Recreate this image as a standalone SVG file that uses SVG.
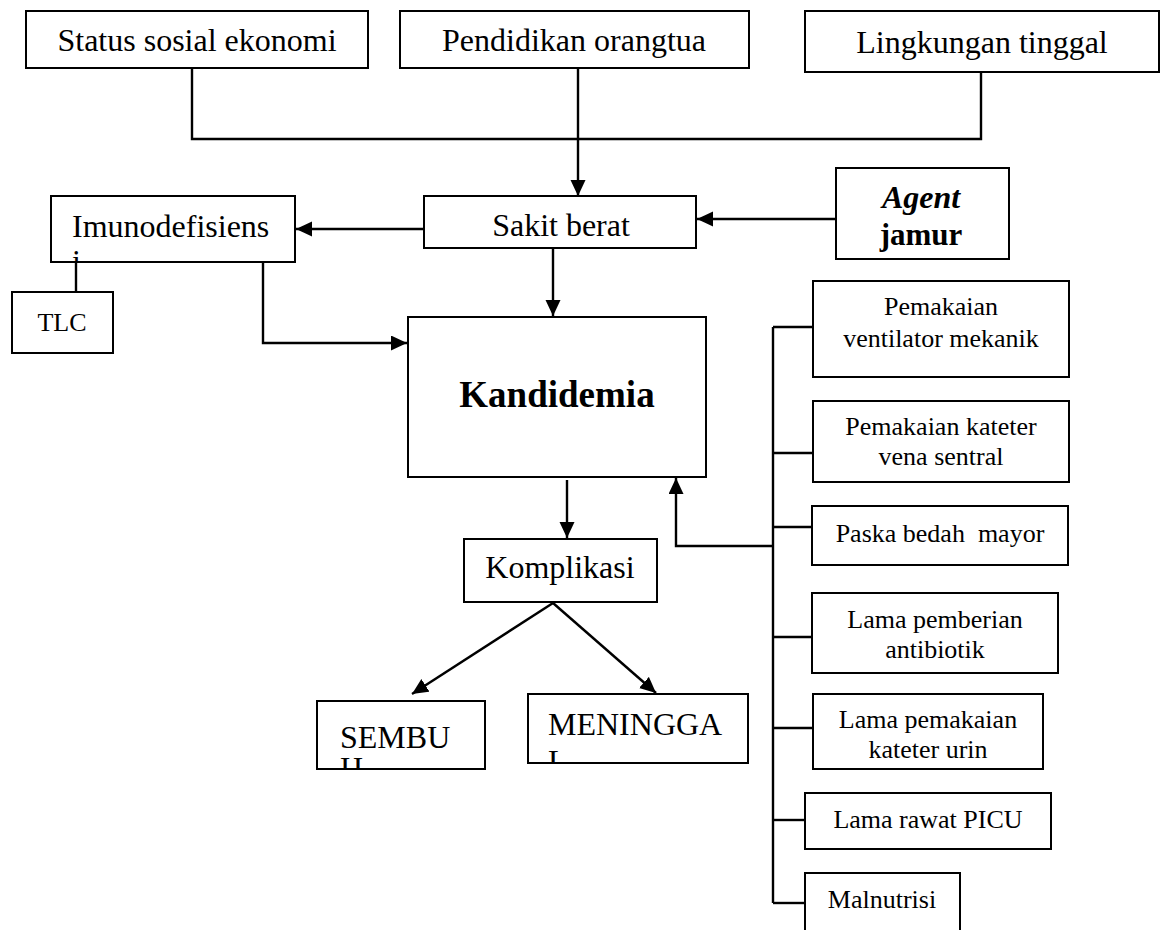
<svg xmlns="http://www.w3.org/2000/svg" width="1165" height="930" viewBox="0 0 1165 930">
<style>
.box{fill:#fff;stroke:#000;stroke-width:2}
.ln{fill:none;stroke:#000;stroke-width:2.4}
text{font-family:"Liberation Serif","Times New Roman",serif;fill:#000}
.t32{font-size:32px}
.t26{font-size:26px}
.c{text-anchor:middle}
</style>
<defs>
<marker id="ah" markerUnits="userSpaceOnUse" markerWidth="18" markerHeight="16" refX="16" refY="7.5" orient="auto">
<path d="M0,0 L16,7.5 L0,15 z" fill="#000"/>
</marker>
<clipPath id="clipImu"><rect x="51" y="196" width="244" height="66"/></clipPath>
<clipPath id="clipSem"><rect x="317" y="701" width="168" height="68"/></clipPath>
<clipPath id="clipMen"><rect x="528" y="694" width="220" height="69"/></clipPath>
</defs>
<g id="connectors">
<polyline class="ln" points="192,68 192,139 981,139 981,72"/>
<line class="ln" x1="578" y1="68" x2="578" y2="196" marker-end="url(#ah)"/>
<line class="ln" x1="836" y1="219" x2="697" y2="219" marker-end="url(#ah)"/>
<line class="ln" x1="424" y1="229" x2="296" y2="229" marker-end="url(#ah)"/>
<line class="ln" x1="76" y1="262" x2="76" y2="292"/>
<polyline class="ln" points="263,262 263,343 407,343" marker-end="url(#ah)"/>
<line class="ln" x1="553" y1="248" x2="553" y2="316" marker-end="url(#ah)"/>
<line class="ln" x1="567" y1="480" x2="567" y2="538" marker-end="url(#ah)"/>
<line class="ln" x1="553" y1="603" x2="412" y2="694" marker-end="url(#ah)"/>
<line class="ln" x1="553" y1="603" x2="656" y2="693" marker-end="url(#ah)"/>
<line class="ln" x1="773" y1="327" x2="773" y2="903"/>
<line class="ln" x1="773" y1="327" x2="813" y2="327"/>
<line class="ln" x1="773" y1="453" x2="813" y2="453"/>
<line class="ln" x1="773" y1="527" x2="812" y2="527"/>
<line class="ln" x1="773" y1="637" x2="812" y2="637"/>
<line class="ln" x1="773" y1="728" x2="813" y2="728"/>
<line class="ln" x1="773" y1="820" x2="805" y2="820"/>
<line class="ln" x1="773" y1="903" x2="805" y2="903"/>
<polyline class="ln" points="773,546 676,546 676,478" marker-end="url(#ah)"/>
</g>
<g id="status"><rect class="box" x="26" y="11" width="342" height="57"/><text class="t32 c" x="197" y="51">Status sosial ekonomi</text></g>
<g id="pendidikan"><rect class="box" x="400" y="11" width="349" height="57"/><text class="t32 c" x="574" y="51">Pendidikan orangtua</text></g>
<g id="lingkungan"><rect class="box" x="805" y="11" width="354" height="61"/><text class="t32 c" x="982" y="53">Lingkungan tinggal</text></g>
<g id="sakit"><rect class="box" x="424" y="196" width="272" height="52"/><text class="t32 c" x="561" y="236">Sakit berat</text></g>
<g id="agent"><rect class="box" x="836" y="168" width="173" height="91"/>
<text class="c" x="921" y="208" font-size="32" font-weight="bold" font-style="italic">Agent</text>
<text class="c" x="921" y="245" font-size="31" font-weight="bold">jamur</text></g>
<g id="imunodefisiens"><rect class="box" x="51" y="196" width="244" height="66"/>
<text class="t32" x="72" y="237">Imunodefisiens</text>
<text class="t32" x="72" y="272" clip-path="url(#clipImu)">i</text></g>
<g id="tlc"><rect class="box" x="12" y="292" width="101" height="61"/><text class="c" x="62" y="331" font-size="26">TLC</text></g>
<g id="kandidemia"><rect class="box" x="408" y="317" width="298" height="160"/><text class="c" x="557" y="407" font-size="37" font-weight="bold">Kandidemia</text></g>
<g id="komplikasi"><rect class="box" x="464" y="539" width="193" height="63"/><text class="t32 c" x="560" y="578">Komplikasi</text></g>
<g id="sembuh"><rect class="box" x="317" y="701" width="168" height="68"/>
<text class="t32" x="340" y="748">SEMBU</text>
<text class="t32" x="340" y="779" clip-path="url(#clipSem)">H</text></g>
<g id="meninggal"><rect class="box" x="528" y="694" width="220" height="69"/>
<text class="t32" x="548" y="735">MENINGGA</text>
<text class="t32" x="548" y="772" clip-path="url(#clipMen)">L</text></g>
<g id="ventilator"><rect class="box" x="813" y="281" width="256" height="96"/>
<text class="t26 c" x="941" y="315">Pemakaian</text><text class="t26 c" x="941" y="347">ventilator mekanik</text></g>
<g id="kateter-vena"><rect class="box" x="813" y="401" width="256" height="81"/>
<text class="t26 c" x="941" y="435">Pemakaian kateter</text><text class="t26 c" x="941" y="465">vena sentral</text></g>
<g id="paska"><rect class="box" x="812" y="506" width="256" height="59"/>
<text class="t26 c" x="940" y="542" xml:space="preserve">Paska bedah  mayor</text></g>
<g id="antibiotik"><rect class="box" x="812" y="593" width="246" height="80"/>
<text class="t26 c" x="935" y="628">Lama pemberian</text><text class="t26 c" x="935" y="658">antibiotik</text></g>
<g id="kateter-urin"><rect class="box" x="813" y="694" width="230" height="75"/>
<text class="t26 c" x="928" y="728">Lama pemakaian</text><text class="t26 c" x="928" y="758">kateter urin</text></g>
<g id="picu"><rect class="box" x="805" y="793" width="246" height="56"/>
<text class="t26 c" x="928" y="828">Lama rawat PICU</text></g>
<g id="malnutrisi"><rect class="box" x="805" y="873" width="155" height="80"/>
<text class="t26 c" x="882" y="908">Malnutrisi</text></g>
</svg>
